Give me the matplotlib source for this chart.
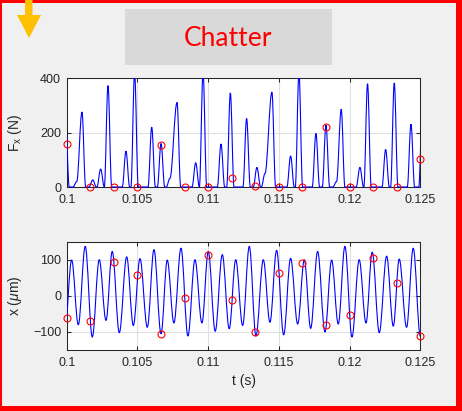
import matplotlib
matplotlib.use("Agg")
import matplotlib.pyplot as plt
from matplotlib.path import Path
from matplotlib.patches import PathPatch, Rectangle, Polygon
from matplotlib.transforms import Bbox, TransformedBbox

# ---------------- data ----------------
# Cutting force: pulse peaks (time in s, height in N)
force_peak_t = [0.09992, 0.10071, 0.10108, 0.10184, 0.10240, 0.10292, 0.10419,
                0.10480, 0.10601, 0.10667, 0.10730, 0.10780, 0.10912, 0.10964,
                0.11091, 0.11157, 0.11272, 0.11345, 0.11402, 0.11451, 0.11583,
                0.11642, 0.11762, 0.11833, 0.11908, 0.11941, 0.12073, 0.12127,
                0.12255, 0.12316, 0.12434, 0.12515]
force_peak_v = [240, 20, 276, 26, 66, 373, 132,
                420, 220, 160, 32, 311, 89, 420,
                158, 346, 252, 72, 50, 349, 114,
                420, 197, 228, 20, 286, 72, 380,
                138, 383, 231, 300]

# Tool displacement: successive extrema (time in s, value in um)
disp_ext_t = [0.09986, 0.10035, 0.10082, 0.10131, 0.10181, 0.10230, 0.10278,
              0.10322, 0.10372, 0.10424, 0.10471, 0.10518, 0.10570, 0.10617,
              0.10667, 0.10711, 0.10758, 0.10808, 0.10857, 0.10907, 0.10956,
              0.11001, 0.11050, 0.11100, 0.11149, 0.11195, 0.11244, 0.11291,
              0.11338, 0.11390, 0.11437, 0.11484, 0.11534, 0.11583, 0.11633,
              0.11680, 0.11725, 0.11774, 0.11826, 0.11873, 0.11920, 0.11967,
              0.12017, 0.12068, 0.12116, 0.12160, 0.12210, 0.12262, 0.12309,
              0.12351, 0.12403, 0.12450, 0.12500]
disp_ext_v = [-100, 99, -80, 137, -114, 100, -68,
              123, -102, 108, -82, 103, -87, 128,
              -105, 99, -75, 132, -111, 100, -75,
              123, -98, 114, -91, 100, -82, 137,
              -111, 100, -73, 126, -108, 104, -78,
              100, -90, 123, -100, 99, -78, 137,
              -114, 100, -75, 121, -102, 110, -84,
              102, -87, 132, -111]

# Once-per-revolution samples (red circles)
sample_t = [0.10000, 0.10167, 0.10333, 0.10500, 0.10667, 0.10833, 0.11000, 0.11167,
            0.11333, 0.11500, 0.11667, 0.11833, 0.12000, 0.12167, 0.12333, 0.12500]
sample_force = [160, 0, 0, 0, 155, 0, 0, 32, 4, 0, 0, 220, 0, 0, 0, 104]
sample_disp = [-61, -71, 95, 58, -106, -6, 114, -12, -100, 62, 92, -81, -53, 105, 36, -110]

x_ticks = [0.1, 0.105, 0.11, 0.115, 0.12, 0.125]
x_ticklabels = ["0.1", "0.105", "0.11", "0.115", "0.12", "0.125"]
force_ticks = [0, 200, 400]
disp_ticks = [-100, 0, 100]

# ---------------- helpers ----------------
W, H = 462, 411
PULSE_HALF = 0.00026
K = 0.3634


def fx(x):
    return x / W


def fy(y):
    return 1 - y / H


def smooth_path(ts, vs):
    verts = [(ts[0], vs[0])]
    codes = [Path.MOVETO]
    for i in range(len(ts) - 1):
        dt = ts[i + 1] - ts[i]
        verts += [(ts[i] + K * dt, vs[i]), (ts[i + 1] - K * dt, vs[i + 1]),
                  (ts[i + 1], vs[i + 1])]
        codes += [Path.CURVE4] * 3
    return Path(verts, codes)


def pulse_knots(pt, pv):
    ts, vs = [], []
    for i, (t, v) in enumerate(zip(pt, pv)):
        merged_prev = i > 0 and (t - PULSE_HALF) < (pt[i - 1] + PULSE_HALF)
        if not merged_prev:
            ts.append(t - PULSE_HALF); vs.append(0)
        ts.append(t); vs.append(v)
        merged_next = i < len(pt) - 1 and (pt[i + 1] - PULSE_HALF) < (t + PULSE_HALF)
        if not merged_next:
            ts.append(t + PULSE_HALF); vs.append(0)
    return ts, vs


plt.rcParams['font.family'] = ['Liberation Sans', 'DejaVu Sans']
plt.rcParams['mathtext.fontset'] = 'custom'
plt.rcParams['mathtext.rm'] = 'Liberation Sans'
plt.rcParams['mathtext.it'] = 'Liberation Sans:italic'

BG = '#f0f0f0'
DARK = '#262626'
fig = plt.figure(figsize=(W / 100, H / 100), dpi=100, facecolor=BG)

# ---------------- decorations ----------------
for (x0, y0, x1, y1) in [(0, 0, 462, 3), (456, 0, 462, 411), (0, 406, 462, 411), (0, 0, 1.5, 411)]:
    fig.patches.append(Rectangle((fx(x0), fy(y1)), fx(x1) - fx(x0), fy(y0) - fy(y1),
                                 transform=fig.transFigure, color='#ff0000', lw=0, zorder=10))
arrow_px = [(25, 0), (32.5, 0), (32.5, 15), (41, 15), (29, 38), (17, 15), (25, 15)]
fig.patches.append(Polygon([(fx(a), fy(b)) for a, b in arrow_px], closed=True,
                           transform=fig.transFigure, color='#ffc000', lw=0, zorder=10))
fig.patches.append(Rectangle((fx(125), fy(65)), fx(332) - fx(125), fy(9) - fy(65),
                             transform=fig.transFigure, color='#d9d9d9', lw=0))
fig.text(fx(228), fy(38), "Chatter", color='#ff0000', fontsize=19,
         family=['Lato', 'DejaVu Sans'], ha='center', va='center')

# ---------------- axes ----------------
axL, axW = fx(66.7), fx(420.3) - fx(66.7)
ax1 = fig.add_axes([axL, fy(187), axW, fy(78.3) - fy(187)])
ax2 = fig.add_axes([axL, fy(350), axW, fy(241.7) - fy(350)])


def style(ax, yticks, ylim):
    ax.set_xlim(0.1, 0.125)
    ax.set_ylim(*ylim)
    ax.set_xticks(x_ticks)
    ax.set_xticklabels(x_ticklabels)
    ax.set_yticks(yticks)
    ax.tick_params(direction='in', top=True, right=True, length=3, width=0.75,
                   colors=DARK, labelsize=9, pad=5)
    ax.tick_params(axis='y', pad=4)
    for s in ax.spines.values():
        s.set_color(DARK)
        s.set_linewidth(0.75)
    ax.grid(True, color='#dfdfdf', lw=0.8)
    ax.set_axisbelow(True)
    ax.set_facecolor('white')


style(ax1, force_ticks, (0, 400))
style(ax2, disp_ticks, (-150, 150))

ft, fv = pulse_knots(force_peak_t, force_peak_v)
p1 = PathPatch(smooth_path(ft, fv), fill=False, edgecolor='#0000ff', lw=0.8, zorder=3)
ax1.add_patch(p1)
p1.set_clip_box(TransformedBbox(Bbox.from_extents(0.1, -20, 0.125, 400), ax1.transData))
ax1.plot(sample_t, sample_force, 'o', mfc='none', mec='#ff0000', ms=5, mew=0.8,
         zorder=4, clip_on=False)

p2 = PathPatch(smooth_path(disp_ext_t, disp_ext_v), fill=False, edgecolor='#0000ff',
               lw=0.8, zorder=3)
ax2.add_patch(p2)
p2.set_clip_box(TransformedBbox(Bbox.from_extents(0.1, -150, 0.125, 150), ax2.transData))
ax2.plot(sample_t, sample_disp, 'o', mfc='none', mec='#ff0000', ms=5, mew=0.8,
         zorder=4, clip_on=False)

ax1.set_ylabel(r'F$_{\rm x}$ (N)', fontsize=10, color=DARK)
ax2.set_ylabel(r'x ($\mu$m)', fontsize=10, color=DARK)
ax1.yaxis.set_label_coords(-0.122, 0.5)
ax2.yaxis.set_label_coords(-0.122, 0.5)
ax2.set_xlabel('t (s)', fontsize=10, color=DARK, labelpad=4)

fig.savefig('out.png', dpi=100, facecolor=BG)
